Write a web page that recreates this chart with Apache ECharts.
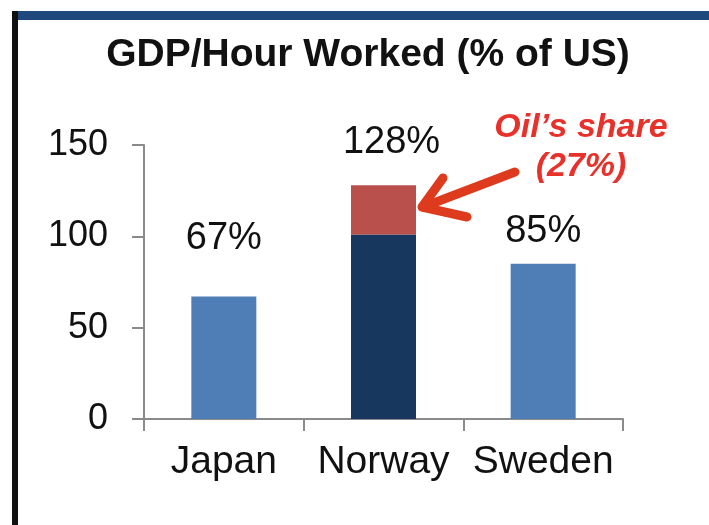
<!DOCTYPE html>
<html>
<head>
<meta charset="utf-8">
<script src="https://cdn.jsdelivr.net/npm/echarts@6/dist/echarts.min.js"></script>
<style>
  html, body { margin: 0; padding: 0; background: #fff; }
  #chart { width: 709px; height: 525px; }
</style>
</head>
<body>
<div id="chart"></div>
<script>
var categories = ['Japan', 'Norway', 'Sweden'];
var baseValues = [67, 101, 85];
var oilValues = [null, 27, null];
var baseColors = ['#4f7db5', '#17375e', '#4f7db5'];
// label gap above each bar differs in the original
var labelGaps = [39, 24, 13];
var labelShift = [0, 8, 0];
var yTicks = { min: 0, max: 150, interval: 50 };

var fontName = 'Liberation Sans';

var totals = baseValues.map(function ( v, i ) {
    return v + ( oilValues[i] || 0 );
});

function topLabel( i ) {
    return {
        show: true,
        position: 'top',
        distance: labelGaps[i],
        offset: [labelShift[i], 0],
        formatter: totals[i] + '%',
        color: '#111',
        fontSize: 38,
        fontFamily: fontName
    }
}

var baseData = baseValues.map(function ( v, i ) {
    var item = { value: v, itemStyle: { color: baseColors[i] } };
    if ( !oilValues[i] ) item.label = topLabel( i );
    return item;
});
var oilData = oilValues.map(function ( v, i ) {
    if ( v == null ) return null;
    return { value: v, label: topLabel( i ) };
});

var chart = echarts.init( document.getElementById( 'chart' ) );
chart.setOption({
    animation: false,
    title: {
        text: 'GDP/Hour Worked (% of US)',
        left: 363,
        textAlign: 'center',
        top: 31,
        textStyle: {
            color: '#111',
            fontSize: 39,
            fontWeight: 'bold',
            fontFamily: fontName
        }
    },
    grid: { left: 144, right: 86, top: 145, bottom: 106 },
    xAxis: {
        type: 'category',
        data: categories,
        axisLine: { lineStyle: { color: '#8a8a8a', width: 2 } },
        axisTick: { show: true, interval: 0, length: 12, lineStyle: { color: '#8a8a8a', width: 2 } },
        axisLabel: { interval: 0, color: '#111', fontSize: 39, fontFamily: fontName, margin: 24 }
    },
    yAxis: {
        type: 'value',
        min: yTicks.min,
        max: yTicks.max,
        interval: yTicks.interval,
        splitLine: { show: false },
        axisLine: { show: true, lineStyle: { color: '#8a8a8a', width: 2 } },
        axisTick: { show: true, length: 12, lineStyle: { color: '#8a8a8a', width: 2 } },
        axisLabel: { color: '#111', fontSize: 36, fontFamily: fontName, margin: 36 }
    },
    series: [{
        name: 'Base',
        type: 'bar',
        stack: 'gdp',
        barWidth: 65,
        data: baseData
    }, {
        name: 'Oil',
        type: 'bar',
        stack: 'gdp',
        barWidth: 65,
        itemStyle: { color: '#b9504c' },
        data: oilData
    }],
    graphic: [{
        type: 'rect',
        shape: { x: 12, y: 11, width: 697, height: 9 },
        style: { fill: '#1f497d' }
    }, {
        type: 'rect',
        shape: { x: 12, y: 11, width: 6, height: 514 },
        style: { fill: '#111' }
    }, {
        type: 'text',
        x: 581,
        y: 108,
        style: {
            text: 'Oil\u2019s share\n(27%)',
            align: 'center',
            verticalAlign: 'top',
            fill: '#e8312a',
            font: 'italic bold 34px "Liberation Sans"',
            lineHeight: 39
        }
    }, {
        type: 'polyline',
        shape: { points: [[515, 172], [423, 207]] },
        style: { stroke: '#de3a1e', lineWidth: 9, lineCap: 'round', fill: null }
    }, {
        type: 'polyline',
        shape: { points: [[443, 178], [422, 207], [467, 217]] },
        style: { stroke: '#de3a1e', lineWidth: 9, lineCap: 'round', lineJoin: 'round', fill: null }
    }]
});
</script>
</body>
</html>
